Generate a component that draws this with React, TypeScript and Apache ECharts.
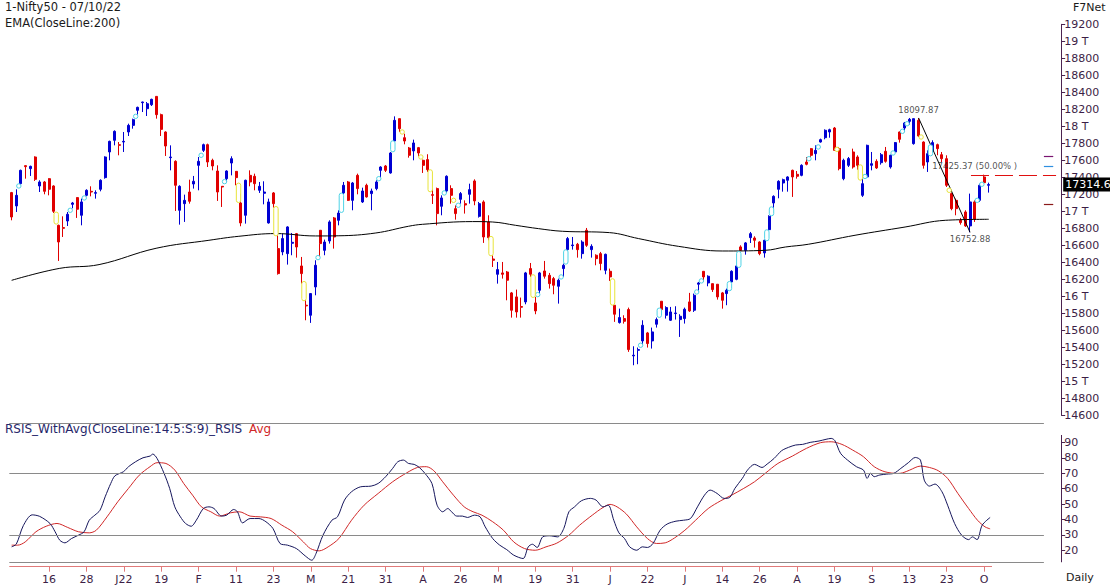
import React, { useEffect, useRef } from 'react';
import * as echarts from 'echarts';

// ---------- trading calendar (Dec 2021 - Oct 2022) ----------
const tradingDays: [string, number[]][] = [
  ['2021-12', [6, 7, 8, 9, 10, 13, 14, 15, 16, 17, 20, 21, 22, 23, 24, 27, 28, 29, 30, 31]],
  ['2022-01', [3, 4, 5, 6, 7, 10, 11, 12, 13, 14, 17, 18, 19, 20, 21, 24, 25, 27, 28, 31]],
  ['2022-02', [1, 2, 3, 4, 7, 8, 9, 10, 11, 14, 15, 16, 17, 18, 21, 22, 23, 24, 25, 28]],
  ['2022-03', [2, 3, 4, 7, 8, 9, 10, 11, 14, 15, 16, 17, 21, 22, 23, 24, 25, 28, 29, 30, 31]],
  ['2022-04', [1, 4, 5, 6, 7, 8, 11, 12, 13, 18, 19, 20, 21, 22, 25, 26, 27, 28, 29]],
  ['2022-05', [2, 4, 5, 6, 9, 10, 11, 12, 13, 16, 17, 18, 19, 20, 23, 24, 25, 26, 27, 30, 31]],
  ['2022-06', [1, 2, 3, 6, 7, 8, 9, 10, 13, 14, 15, 16, 17, 20, 21, 22, 23, 24, 27, 28, 29, 30]],
  ['2022-07', [1, 4, 5, 6, 7, 8, 11, 12, 13, 14, 15, 18, 19, 20, 21, 22, 25, 26, 27, 28, 29]],
  ['2022-08', [1, 2, 3, 4, 5, 8, 10, 11, 12, 16, 17, 18, 19, 22, 23, 24, 25, 26, 29, 30]],
  ['2022-09', [1, 2, 5, 6, 7, 8, 9, 12, 13, 14, 15, 16, 19, 20, 21, 22, 23, 26, 27, 28, 29, 30]],
  ['2022-10', [3, 4, 6, 7]],
];
const dates = tradingDays.flatMap(([m, days]) => days.map((d) => `${m}-${String(d).padStart(2, '0')}`));
const PAD_SLOTS = 15;
const categories = [...dates, ...Array.from({ length: PAD_SLOTS }, (_, k) => `pad${k}`)];
const SLOTS = categories.length;

// x-axis tick labels (every 8th session, starting at session 8)
const xTickLabels = ['16', '28', 'J22', '19', 'F', '11', '23', 'M', '21', '31', 'A', '26', 'M', '19', '31', 'J', '22', 'J', '14', '26', 'A', '19', 'S', '13', '23', 'O'];
const xTickFirst = 8;
const xTickStep = 8;

// ---------- Nifty50 daily [open, high, low, close] ----------
const ohlc: number[][] = [
  [17220, 17228, 16894, 16933], [17063, 17259, 16992, 17188], [17325, 17490, 17306, 17482], [17537, 17541, 17384, 17525], [17502, 17537, 17416, 17529],
  [17639, 17647, 17357, 17376], [17298, 17365, 17227, 17345], [17345, 17357, 17200, 17235], [17384, 17390, 17188, 17259], [17298, 17306, 16980, 17000],
  [16835, 16843, 16416, 16639], [16808, 16941, 16698, 16800], [16886, 16992, 16827, 16965], [17082, 17110, 17035, 17098], [17161, 17165, 16922, 17024],
  [16953, 17149, 16835, 17110], [17188, 17259, 17176, 17247], [17235, 17294, 17176, 17227], [17212, 17247, 17149, 17220], [17259, 17376, 17235, 17365],
  [17396, 17647, 17384, 17639], [17698, 17831, 17600, 17823], [17835, 17952, 17776, 17941], [17784, 17815, 17659, 17776], [17815, 17933, 17698, 17823],
  [17933, 18031, 17886, 18011], [18011, 18090, 17972, 18078], [18188, 18231, 18137, 18223], [18278, 18290, 18168, 18286], [18207, 18286, 18121, 18266],
  [18254, 18325, 18239, 18317], [18352, 18356, 18090, 18137], [18137, 18149, 17886, 17964], [17933, 17941, 17651, 17768], [17631, 17776, 17482, 17639],
  [17588, 17600, 17004, 17306], [17012, 17306, 16843, 17294], [17090, 17196, 16875, 17129], [17227, 17372, 17090, 17118], [17321, 17416, 17267, 17353],
  [17541, 17639, 17247, 17588], [17717, 17796, 17698, 17784], [17784, 17796, 17521, 17580], [17600, 17619, 17482, 17533], [17474, 17541, 17122, 17227],
  [17294, 17298, 17051, 17286], [17384, 17482, 17345, 17474], [17568, 17647, 17423, 17619], [17470, 17474, 17306, 17396], [17098, 17208, 16824, 16863],
  [16953, 17372, 16855, 17365], [17423, 17482, 17294, 17345], [17412, 17443, 17247, 17325], [17247, 17345, 17216, 17294], [17212, 17353, 17082, 17227],
  [16863, 17149, 16855, 17110], [17216, 17227, 17043, 17090], [16561, 16737, 16255, 16267], [16522, 16737, 16483, 16679], [16502, 16824, 16373, 16816],
  [16624, 16745, 16483, 16635], [16737, 16745, 16455, 16580], [16357, 16463, 16149, 16267], [15895, 16000, 15718, 15887], [15777, 16039, 15687, 16032],
  [16110, 16424, 16012, 16365], [16777, 16777, 16463, 16620], [16541, 16667, 16483, 16639], [16651, 16894, 16620, 16875], [16922, 16933, 16561, 16698],
  [16894, 17012, 16835, 16980], [17216, 17345, 17200, 17306], [17345, 17357, 17122, 17129], [17129, 17345, 17012, 17333], [17423, 17443, 17200, 17267],
  [17110, 17278, 17098, 17239], [17306, 17325, 17161, 17169], [17208, 17267, 17012, 17239], [17267, 17365, 17247, 17345], [17482, 17530, 17384, 17521],
  [17533, 17545, 17462, 17482], [17451, 17698, 17443, 17686], [17827, 18117, 17815, 18070], [18090, 18090, 17933, 17972], [17866, 17913, 17788, 17827],
  [17745, 17757, 17631, 17659], [17710, 17843, 17600, 17804], [17749, 17757, 17647, 17686], [17600, 17608, 17451, 17541], [17608, 17671, 17463, 17490],
  [17196, 17259, 17086, 17188], [17267, 17279, 16835, 16973], [17059, 17188, 16953, 17157], [17239, 17423, 17216, 17412], [17267, 17306, 17090, 17188],
  [17031, 17071, 16902, 16973], [17141, 17227, 17090, 17208], [17090, 17129, 16973, 17074], [17200, 17325, 17090, 17255], [17357, 17376, 17071, 17122],
  [16941, 17110, 16926, 17090], [17110, 17129, 16628, 16698], [16875, 16953, 16659, 16690], [16439, 16483, 16345, 16424], [16259, 16404, 16149, 16314],
  [16275, 16404, 16208, 16259], [16286, 16298, 15953, 16189], [16040, 16051, 15749, 15836], [15993, 16079, 15749, 15816], [15880, 15985, 15749, 15871],
  [15934, 16287, 15906, 16275], [16326, 16392, 16228, 16259], [15922, 15993, 15789, 15828], [16071, 16287, 16024, 16275], [16298, 16416, 16208, 16236],
  [16247, 16275, 16091, 16149], [16208, 16228, 16024, 16130], [16118, 16208, 15914, 16189], [16326, 16385, 16228, 16365], [16549, 16698, 16534, 16679],
  [16596, 16698, 16549, 16604], [16612, 16628, 16455, 16549], [16502, 16659, 16443, 16639], [16777, 16804, 16581, 16600], [16549, 16612, 16455, 16588],
  [16483, 16494, 16365, 16443], [16502, 16522, 16306, 16385], [16306, 16502, 16259, 16494], [16294, 16326, 16181, 16228], [15895, 15895, 15699, 15789],
  [15691, 15855, 15679, 15750], [15738, 15777, 15679, 15706], [15844, 15867, 15346, 15373], [15299, 15412, 15189, 15307], [15365, 15397, 15201, 15373],
  [15475, 15718, 15424, 15659], [15569, 15581, 15397, 15444], [15475, 15632, 15385, 15581], [15671, 15750, 15632, 15726], [15942, 15942, 15828, 15844],
  [15777, 15883, 15738, 15867], [15718, 15875, 15710, 15816], [15797, 15883, 15726, 15804], [15726, 15789, 15522, 15765], [15738, 15867, 15679, 15848],
  [15934, 16040, 15816, 15828], [15836, 16032, 15816, 16012], [16142, 16169, 16051, 16157], [16294, 16294, 16169, 16228], [16157, 16247, 16118, 16236],
  [16149, 16149, 16051, 16079], [16142, 16142, 15961, 15993], [16040, 16051, 15855, 15953], [16032, 16091, 15895, 16071], [16169, 16306, 16157, 16294],
  [16200, 16365, 16189, 16357], [16581, 16600, 16533, 16541], [16541, 16639, 16490, 16628], [16690, 16757, 16627, 16737], [16686, 16706, 16573, 16659],
  [16639, 16647, 16483, 16502], [16510, 16667, 16455, 16659], [16784, 16953, 16776, 16941], [17098, 17188, 17031, 17176], [17259, 17365, 17153, 17353],
  [17333, 17384, 17231, 17372], [17365, 17412, 17231, 17404], [17482, 17490, 17169, 17404], [17435, 17474, 17384, 17412], [17423, 17553, 17412, 17541],
  [17580, 17639, 17541, 17553], [17737, 17745, 17639, 17659], [17678, 17776, 17600, 17717], [17815, 17855, 17808, 17843], [17866, 17964, 17847, 17953],
  [17933, 17972, 17866, 17960], [17980, 17992, 17710, 17717], [17737, 17757, 17482, 17502], [17384, 17619, 17365, 17600], [17541, 17639, 17521, 17620],
  [17698, 17737, 17502, 17521], [17639, 17659, 17490, 17541], [17188, 17384, 17169, 17325], [17404, 17784, 17396, 17776], [17541, 17698, 17482, 17560],
  [17588, 17612, 17498, 17510], [17572, 17686, 17549, 17666], [17706, 17757, 17572, 17588], [17521, 17666, 17502, 17659], [17698, 17815, 17690, 17808],
  [17933, 17941, 17808, 17847], [17980, 18051, 17933, 18039], [18058, 18098, 18019, 18082], [17796, 18090, 17784, 18090], [18070, 18097.87, 17874, 17886],
  [17815, 17823, 17502, 17541], [17580, 17717, 17463, 17678], [17706, 17835, 17698, 17808], [17784, 17796, 17659, 17737], [17666, 17698, 17580, 17619],
  [17619, 17659, 17286, 17306], [17208, 17220, 17012, 17031], [17129, 17149, 16953, 17031], [16894, 16922, 16843, 16867], [16992, 17012, 16816, 16828],
  [16828, 17208, 16752.88, 17110], [17110, 17129, 16875, 16906], [17129, 17325, 17110, 17306], [17404, 17431, 17325, 17337], [17306, 17337, 17220, 17314.6],
];

// EMA(200) read points [session, value]
const ema200: number[][] = [
  [0, 16188], [10.3, 16329], [18.7, 16373], [30.9, 16565], [42.2, 16659], [48.6, 16706], [56.5, 16738], [65, 16710],
  [70, 16712], [77.9, 16745], [84.9, 16824], [87.9, 16847], [98.6, 16879], [102.9, 16874], [107.8, 16835], [112.7, 16796],
  [117.8, 16765], [127.9, 16749], [134.1, 16679], [142.6, 16588], [152, 16533], [161.2, 16541], [165.5, 16580], [170.4, 16612],
  [180.4, 16718], [191.1, 16815], [199.7, 16894], [209, 16906],
];

// pattern markers [session, low, high]
const cyanMarks: number[][] = [
  [1, 17298, 17298], [12, 17012, 17012], [15, 17157, 17157], [26, 18117, 18117], [40, 17659, 17659], [45, 17349, 17349],
  [65, 16455, 16455], [70, 17012, 17188], [78, 17384, 17384], [81, 17725, 17804], [92, 17216, 17216], [95, 17071, 17071],
  [112, 16020, 16020], [117, 16228, 16228], [118, 16404, 16522], [134, 15424, 15424], [138, 15777, 15836], [146, 16051, 16051],
  [147, 16181, 16181], [153, 16091, 16149], [155, 16365, 16502], [161, 16679, 16757], [162, 16973, 17027], [170, 17619, 17619],
  [172, 17757, 17757], [182, 17410, 17410], [188, 17686, 17686], [190, 17941, 17941], [191, 18030, 18030], [196, 17678, 17757],
  [206, 17129, 17129], [207, 17318, 17318],
];
const yellowMarks: number[][] = [
  [9, 16875, 16965], [48, 17129, 17306], [56, 16737, 17031], [62, 15973, 16149], [83, 17933, 17933], [87, 17639, 17639],
  [89, 17255, 17463], [94, 17129, 17129], [102, 16502, 16679], [111, 16012, 16228], [128, 15922, 16181], [176, 17729, 17729],
  [181, 17392, 17521], [194, 17874, 17874], [200, 17247, 17247],
];

// swing annotations
const swingHigh = { idx: 194, value: 18097.87 };
const swingLow = { idx: 205, value: 16752.88 };
const fibLevel = 17425.37;
const fibLabel = '(50.00% )';
const lastClose = 17314.6;
const sideLevels: [number, string][] = [[17650, '#7a1470'], [17533, '#2f8fe0'], [17079, '#8a1a1a']];

// RSI (14) smoothed and its average, read points [session, value]
const rsiLine: number[][] = [
  [0, 22.2], [1, 24], [2.5, 36], [4.4, 43], [6, 42], [8.2, 37.4], [9.3, 32], [10.3, 26.5], [11.4, 24.8], [12.8, 27.6],
  [14.3, 29.8], [15.5, 32], [16.6, 39.5], [17.8, 42.8], [18.9, 46], [20, 54.7], [21.2, 63.4], [22.1, 68.4], [23.9, 71], [25, 74.3],
  [26.5, 77.5], [28.1, 80.1], [29.6, 81.2], [30.2, 82.5], [31.1, 79.7], [32.6, 70], [33.8, 60.2], [34.9, 48.2], [36.1, 41.7], [37.2, 37.4],
  [38.4, 35.6], [39.5, 39.5], [41, 47.1], [42.2, 48.2], [43.3, 47.1], [44.9, 42.2], [46, 42.8], [47.5, 46.5], [48.3, 45], [49.4, 37.8],
  [51, 40.6], [52.9, 40.6], [54.4, 38.5], [55.9, 34.1], [57.4, 24.4], [59, 23.3], [60.9, 21.1], [62.8, 16.3], [64.2, 13.5], [65.1, 17.8],
  [66.6, 29.8], [68.5, 39.5], [69.7, 41.7], [71.2, 52.6], [72.7, 58], [74.6, 61.2], [76.9, 61.7], [78.4, 63.4], [80, 67.8], [81.5, 73.2],
  [82.6, 77.5], [83.8, 78.6], [84.9, 76.4], [86.1, 75.8], [87.2, 73.8], [88.4, 70], [89.9, 63.4], [91, 49.3], [92.2, 45], [93.3, 47.1],
  [94.1, 45], [95.2, 42.2], [96.4, 42.2], [97.5, 41.3], [99, 42.8], [100.2, 41.7], [101.3, 35.2], [102.9, 27.6], [104.4, 23.3], [105.9, 20.4],
  [107.4, 16.8], [109.4, 14.6], [110.5, 22.2], [111.4, 23.9], [112.4, 21.8], [113.6, 28.7], [115.1, 29.4], [116.8, 28.7], [118.1, 34.1], [119.2, 45],
  [120.4, 48.2], [121.9, 52.2], [123.8, 53.7], [125, 52.6], [126.5, 48.2], [127.6, 49.3], [128.8, 39.5], [129.9, 31.3], [131.1, 27.6], [132.2, 22.2],
  [133.7, 20], [134.9, 22.2], [136, 21.8], [137.2, 24.4], [138.7, 33], [140.2, 37], [142.1, 38.9], [143.7, 39.5], [145.2, 40.6], [146.7, 48.2],
  [148.2, 55.8], [149.4, 59.1], [150.9, 56.9], [152.4, 53.7], [153.6, 54.3], [154.7, 60.2], [156.3, 66.7], [157.4, 72.1], [158.9, 75.8], [160.5, 73.8],
  [161.6, 76], [163.1, 79.7], [164.7, 84.7], [166.2, 86.9], [167.7, 88.4], [169.2, 88.8], [170.8, 90.1], [172.7, 91], [174.2, 92.1], [175.3, 92.7],
  [176.1, 91.2], [177.3, 83], [178.8, 78.6], [180.7, 74.3], [182.2, 72.1], [183, 66.7], [183.7, 70], [184.5, 67.8], [185.7, 68.9], [187.2, 69.5],
  [188.7, 70], [190.2, 73.2], [191.8, 76.9], [193.3, 80.3], [194.4, 78.6], [195.2, 65.6], [196.3, 61.7], [197.5, 63], [199, 58], [200.2, 49.3],
  [201.7, 37.4], [203.2, 29.8], [204.7, 26.9], [205.5, 28.7], [206.5, 26.9], [207.6, 36.3], [209.3, 41.3],
];
const rsiAvg: number[][] = [
  [0, 23.3], [1.3, 23.3], [2.9, 25.4], [5.2, 32], [7.4, 35.6], [9.7, 37.4], [12, 34.8], [14.3, 32], [16.6, 31.3], [18.1, 33],
  [20.4, 41.7], [22.7, 51.5], [25, 60.2], [27.3, 68.8], [29.6, 74.3], [31.1, 76.9], [33, 76.4], [34.9, 72.1], [36.8, 63.4], [38.7, 55.8],
  [40.6, 48.2], [42.6, 45], [44.5, 42.2], [46.8, 44.3], [48.7, 45], [51, 42.2], [53.2, 41.7], [55.5, 40.6], [57.8, 36.3], [60.1, 32],
  [62.4, 25.4], [63.9, 21.1], [65.8, 19.6], [67.7, 22.2], [70, 27.6], [72.7, 39.5], [75.4, 49.3], [78.4, 56.9], [81.5, 64.5], [84.5, 70.3],
  [86.8, 73.8], [88.7, 74.3], [90.3, 71.7], [92.2, 64.5], [94.5, 55.8], [96.8, 48.2], [98.7, 45], [100.6, 42.8], [102.9, 38.5], [105.2, 33],
  [107.4, 25.4], [109.7, 21.1], [112, 20], [114.3, 22.2], [116.6, 24.6], [119.2, 29.8], [121.5, 36.3], [124.2, 42.8], [126.5, 47.8], [128, 49.8],
  [129.5, 48.2], [131.5, 43.5], [133.7, 35.2], [136, 27.6], [137.9, 24.4], [139.8, 24.8], [141.8, 28], [144, 33], [146.3, 39.5], [149, 47.1],
  [151.7, 52.2], [154, 55.8], [156.6, 60.2], [158.9, 64.5], [161.2, 70], [163.9, 76.4], [167, 81.2], [170, 86.2], [173, 89.9], [175.3, 90.5],
  [177.6, 88.8], [179.9, 85.1], [182.2, 80.8], [184.5, 74.3], [186.8, 71], [189.5, 69.9], [190.6, 70.3], [192.1, 72.1], [194.4, 74.7], [196.3, 73.8],
  [198.2, 71.7], [200.2, 66.7], [202.4, 56.9], [204.7, 47.1], [206.6, 39.5], [208.2, 35.2], [209.3, 33.9],
];
const rsiTicks = [20, 30, 40, 50, 60, 70, 80, 90];
const rsiBands = [70, 30];

// ---------- styling ----------
const FONT = '"DejaVu Sans", Verdana, sans-serif';
const LABEL = '#3c1e46';
const AXIS = '#4b2350';
const AXIS_RED = '#e07a7a';
const GRAY = '#8a8a8a';
const UP = '#0000d2';
const DOWN = '#e00000';
const CYAN = '#4fd3e6';
const YELLOW = '#e8e43a';
const RSI_COLOR = '#16165c';
const AVG_COLOR = '#d02828';
const FIB_COLOR = '#e01010';

const PRICE_MIN = 14600;
const PRICE_MAX = 19200;
const RSI_MIN = 9.3;
const RSI_MAX = 102.7;
const RSI_FLOOR = 12.2;
const RSI_AXIS_TOP = 94.9;

export default function App() {
  const ref = useRef<HTMLDivElement>(null);

  useEffect(() => {
    if (!ref.current) return;
    const chart = echarts.init(ref.current, undefined, { renderer: 'svg' });

    const tickMap = new Map<number, string>();
    xTickLabels.forEach((t, k) => tickMap.set(xTickFirst + xTickStep * k, t));
    const lastIdx = ohlc.length - 1;
    const xMax = SLOTS - 0.5;
    const panelRight = SLOTS - 4.2;

    const markerSeries = (data: number[][], color: string) => ({
      type: 'custom',
      xAxisIndex: 1,
      yAxisIndex: 0,
      clip: false,
      silent: true,
      z: 5,
      data,
      encode: { x: 0, y: [1, 2] },
      renderItem: (_p: any, api: any) => {
        const top = api.coord([api.value(0), api.value(2)]);
        const bot = api.coord([api.value(0), api.value(1)]);
        const cx = top[0] + 2.5;
        const y0 = top[1] - 2.2;
        const y1 = Math.max(bot[1] + 2.2, y0 + 4.4);
        return {
          type: 'rect',
          shape: { x: cx - 2.2, y: y0, width: 4.4, height: y1 - y0, r: 2.2 },
          style: { fill: '#ffffff', stroke: color, lineWidth: 1 },
        };
      },
    });

    const hLine = (v: number, x0: number, x1: number, color: string, width = 1) => [
      { coord: [x0, v], lineStyle: { color, width, type: 'solid', opacity: 1 } },
      { coord: [x1, v] },
    ];

    const axisOff = { show: false, onZero: false };

    const option: any = {
      animation: false,
      backgroundColor: '#ffffff',
      textStyle: { fontFamily: FONT },
      grid: [
        { left: 9.3, right: 48.8, top: 24.3, bottom: 171.7 },
        { left: 9.3, right: 48.8, top: 423, bottom: 20.3 },
      ],
      xAxis: [
        { type: 'category', gridIndex: 0, data: categories, show: false, boundaryGap: true, axisLine: axisOff },
        { type: 'value', gridIndex: 0, min: -0.5, max: xMax, show: false, axisLine: axisOff },
        {
          type: 'category',
          gridIndex: 1,
          data: categories,
          boundaryGap: true,
          axisLine: axisOff,
          axisTick: {
            show: true,
            alignWithLabel: true,
            interval: (i: number) => tickMap.has(i),
            length: 5,
            lineStyle: { color: AXIS_RED },
          },
          axisLabel: {
            interval: (i: number) => tickMap.has(i),
            formatter: (_v: string, i: number) => tickMap.get(i) ?? '',
            color: LABEL,
            fontSize: 11,
            fontFamily: FONT,
            margin: 7,
          },
          splitLine: { show: false },
        },
        { type: 'value', gridIndex: 1, min: -0.5, max: xMax, show: false, axisLine: axisOff },
      ],
      yAxis: [
        {
          type: 'value',
          gridIndex: 0,
          position: 'right',
          min: PRICE_MIN,
          max: PRICE_MAX,
          interval: 200,
          axisLine: { show: true, onZero: false, lineStyle: { color: AXIS } },
          axisTick: { show: true, length: 4, lineStyle: { color: AXIS } },
          axisLabel: {
            color: LABEL,
            fontSize: 11,
            fontFamily: FONT,
            margin: 3,
            formatter: (v: number) => (v % 1000 === 0 ? `${v / 1000} T` : `${v}`),
          },
          splitLine: { show: false },
        },
        {
          type: 'value',
          gridIndex: 1,
          position: 'right',
          min: RSI_MIN,
          max: RSI_MAX,
          axisLine: { show: false, onZero: false },
          axisTick: { show: true, length: 4, customValues: rsiTicks, lineStyle: { color: AXIS } },
          axisLabel: { customValues: rsiTicks, color: LABEL, fontSize: 11, fontFamily: FONT, margin: 3 },
          splitLine: { show: false },
        },
      ],
      series: [
        {
          name: 'Nifty50',
          type: 'candlestick',
          xAxisIndex: 0,
          yAxisIndex: 0,
          barWidth: 2.5,
          data: ohlc.map(([o, h, l, c]) => [o, c, l, h]),
          itemStyle: { color: UP, color0: DOWN, borderColor: UP, borderColor0: DOWN, borderWidth: 1 },
          markLine: {
            silent: true,
            symbol: ['none', 'none'],
            lineStyle: { color: 'rgba(0,0,0,0)', width: 0 },
            data: [
              {
                yAxis: lastClose,
                label: {
                  show: true,
                  position: 'end',
                  distance: 2,
                  formatter: () => `${lastClose}`,
                  color: '#ffffff',
                  backgroundColor: '#000000',
                  padding: [2, 3, 1, 2],
                  fontSize: 11,
                  fontFamily: FONT,
                },
              },
            ],
          },
        },
        {
          name: 'EMA',
          type: 'line',
          xAxisIndex: 1,
          yAxisIndex: 0,
          data: ema200,
          smooth: 0.4,
          showSymbol: false,
          silent: true,
          lineStyle: { color: '#000000', width: 1 },
          markLine: {
            silent: true,
            symbol: ['none', 'none'],
            label: { show: false },
            lineStyle: { color: FIB_COLOR, width: 1.2, type: [18, 6], opacity: 1 },
            data: [[{ coord: [swingLow.idx + 0.2, fibLevel] }, { coord: [SLOTS - 1.6, fibLevel] }]],
          },
        },
        markerSeries(cyanMarks, CYAN),
        markerSeries(yellowMarks, YELLOW),
        {
          name: 'swing',
          type: 'scatter',
          xAxisIndex: 1,
          yAxisIndex: 0,
          symbolSize: 0,
          silent: true,
          z: 6,
          itemStyle: { color: 'rgba(0,0,0,0)' },
          label: { show: true, color: '#1e1e1e', fontSize: 8.5, fontFamily: FONT },
          data: [
            { value: [swingHigh.idx, swingHigh.value], label: { position: 'top', distance: 3, formatter: (p: any) => p.value[1].toFixed(2) } },
            { value: [swingLow.idx, swingLow.value], label: { position: 'bottom', distance: 2, formatter: (p: any) => p.value[1].toFixed(2) } },
            {
              value: [196.9, fibLevel],
              label: { position: 'right', distance: 0, offset: [0, -9], formatter: (p: any) => `${p.value[1].toFixed(2)} ${fibLabel}` },
            },
          ],
          markLine: {
            silent: true,
            symbol: ['none', 'none'],
            label: { show: false },
            data: [
              [
                { coord: [swingHigh.idx, swingHigh.value], lineStyle: { color: '#000000', width: 1, type: 'solid' } },
                { coord: [swingLow.idx, swingLow.value] },
              ],
              ...sideLevels.map(([v, c]) => hLine(v, SLOTS - 4.2, SLOTS - 2.2, c, 1.2)),
            ],
          },
        },
        {
          name: 'RSIS',
          type: 'line',
          xAxisIndex: 3,
          yAxisIndex: 1,
          data: rsiLine,
          smooth: 0.3,
          showSymbol: false,
          silent: true,
          z: 4,
          lineStyle: { color: RSI_COLOR, width: 1 },
        },
        {
          name: 'Avg',
          type: 'line',
          xAxisIndex: 3,
          yAxisIndex: 1,
          data: rsiAvg,
          smooth: 0.3,
          showSymbol: false,
          silent: true,
          z: 3,
          lineStyle: { color: AVG_COLOR, width: 1 },
          markLine: {
            silent: true,
            symbol: ['none', 'none'],
            label: { show: false },
            data: [
              hLine(RSI_MAX, -0.5, panelRight, GRAY),
              ...rsiBands.map((b) => hLine(b, -0.5, panelRight, GRAY)),
              hLine(RSI_FLOOR, -0.5, panelRight, GRAY),
              hLine(RSI_MIN, -0.5, lastIdx + 0.7, AXIS_RED),
              [
                { coord: [xMax, RSI_FLOOR], lineStyle: { color: AXIS, width: 1, type: 'solid' } },
                { coord: [xMax, RSI_AXIS_TOP] },
              ],
            ],
          },
        },
      ],
      graphic: [
        { type: 'text', left: 5, top: 1, style: { text: '1-Nifty50 - 07/10/22', font: `11.5px ${FONT}`, fill: '#1a1a1a' } },
        { type: 'text', left: 5, top: 17, style: { text: 'EMA(CloseLine:200)', font: `11.5px ${FONT}`, fill: '#1a1a1a' } },
        { type: 'text', left: 1073, top: 2, style: { text: 'F7Net', font: `11px ${FONT}`, fill: '#1a1a1a' } },
        { type: 'text', left: 5, top: 423, style: { text: 'RSIS_WithAvg(CloseLine:14:5:S:9)_RSIS', font: `12px ${FONT}`, fill: '#26266a' } },
        { type: 'text', left: 249, top: 423, style: { text: 'Avg', font: `12px ${FONT}`, fill: AVG_COLOR } },
        { type: 'text', left: 1066, top: 572, style: { text: 'Daily', font: `11px ${FONT}`, fill: '#1a1a1a' } },
      ],
    };

    chart.setOption(option);
    return () => chart.dispose();
  }, []);

  return <div ref={ref} style={{ position: 'absolute', left: 0, top: 0, width: 1110, height: 587 }} />;
}
